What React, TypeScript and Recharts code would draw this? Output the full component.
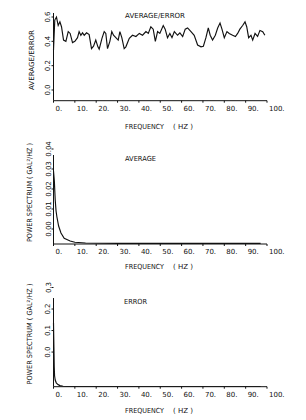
import React from "react";
import { LineChart, Line, XAxis, YAxis, ReferenceLine } from "recharts";

// ---- data ----
const FREQ_TICKS = [0, 10, 20, 30, 40, 50, 60, 70, 80, 90, 100];

const RATIO_Y_TICKS = [0, 0.2, 0.4, 0.6];
const AVG_Y_TICKS = [0, 0.01, 0.02, 0.03, 0.04];
const ERR_Y_TICKS = [0, 0.1, 0.2, 0.3];

// AVERAGE/ERROR ratio
const RATIO_FREQ = [
  0, 0.6, 1.4, 2.2, 3.0, 3.75, 4.7, 5.8, 6.9, 7.8, 8.9, 10, 11.25, 12, 12.8, 13.6, 14.4, 15.5, 16.7, 17.8,
  18.75, 19.8, 20.8, 21.4, 22.7, 23.75, 24.5, 25.3, 26.4, 27.3, 28.1, 29.2, 30.3, 31.1, 32, 33.1, 33.9, 35.5,
  37, 38.6, 40.2, 41.7, 43.3, 44.4, 45.6, 46.7, 47.7, 48.75, 49.8, 51.4, 52.3, 53.4, 54.5, 55.5, 56.6, 58.1,
  59.2, 60.5, 61.7, 62.8, 64.4, 65.9, 67.5, 69.1, 70.2, 71.4, 72.5, 73.4, 74.5, 75.8, 76.9, 78, 78.9, 80,
  81.25, 82.3, 83.9, 85.2, 86.25, 87.3, 88.6, 89.7, 90.5, 91.4, 92.5, 93.3, 94.4, 95.6, 96.7, 98, 99,
];
const RATIO_VALUES = [
  0.33, 0.575, 0.6, 0.53, 0.56, 0.52, 0.41, 0.4, 0.48, 0.465, 0.39, 0.4, 0.43, 0.48, 0.45, 0.47, 0.45, 0.47,
  0.455, 0.34, 0.36, 0.41, 0.355, 0.335, 0.425, 0.48, 0.465, 0.34, 0.4, 0.48, 0.45, 0.43, 0.41, 0.48, 0.43,
  0.34, 0.355, 0.425, 0.45, 0.44, 0.465, 0.45, 0.48, 0.465, 0.52, 0.5, 0.4, 0.48, 0.465, 0.53, 0.5, 0.43,
  0.465, 0.43, 0.48, 0.45, 0.47, 0.44, 0.5, 0.51, 0.48, 0.45, 0.37, 0.355, 0.36, 0.43, 0.51, 0.45, 0.41,
  0.45, 0.51, 0.55, 0.5, 0.43, 0.48, 0.465, 0.45, 0.44, 0.465, 0.5, 0.53, 0.56, 0.52, 0.43, 0.45, 0.41,
  0.465, 0.44, 0.49, 0.48, 0.45,
];

// AVERAGE power spectrum
const AVG_FREQ = [0, 0.4, 0.8, 1.2, 1.6, 2.4, 3.5, 5, 7.8, 10, 15, 30, 60, 97];
const AVG_VALUES = [0.029, 0.024, 0.0145, 0.009, 0.006, 0.0015, -0.002, -0.0047, -0.006, -0.0066, -0.007, -0.0072, -0.0072, -0.0072];

// ERROR power spectrum
const ERR_FREQ = [0, 0.2, 0.35, 0.5, 0.8, 1.3, 2.1, 3, 4.5, 7, 30, 60, 97];
const ERR_VALUES = [0.135, 0.02, -0.07, -0.11, -0.13, -0.143, -0.151, -0.156, -0.159, -0.16, -0.16, -0.16, -0.16];

const zip = (fs: number[], vs: number[]) => fs.map((f, i) => ({ f, v: vs[i] }));
const ratioData = zip(RATIO_FREQ, RATIO_VALUES);
const avgData = zip(AVG_FREQ, AVG_VALUES);
const errData = zip(ERR_FREQ, ERR_VALUES);

// ---- styling ----
const INK = "#111";
const FONT = "DejaVu Sans";

const XTick = (props: any) => {
  const { x, y, payload } = props;
  return (
    <text x={x + 2} y={y + 7.8} fontSize={7} fontFamily={FONT} fill={INK} textAnchor="start">
      {`${payload.value}.`}
    </text>
  );
};

const makeYTick = (digits: number) => (props: any) => {
  const { x, y, payload } = props;
  const cx = x - 3;
  return (
    <text
      x={cx}
      y={y}
      fontSize={7}
      fontFamily={FONT}
      fill={INK}
      textAnchor="middle"
      dominantBaseline="central"
      transform={`rotate(-90, ${cx}, ${y})`}
    >
      {Number(payload.value).toFixed(digits)}
    </text>
  );
};

const YTick1 = makeYTick(1);
const YTick2 = makeYTick(2);

const W = 306;
const Y_AXIS_W = 53.5;
const RIGHT = 39;

const Panel = ({
  top,
  height,
  mTop,
  mBottom,
  data,
  domain,
  ticks,
  tick,
  axisTop,
}: any) => (
  <div style={{ position: "absolute", left: 0, top, width: W, height }}>
    <LineChart
      width={W}
      height={height}
      data={data}
      margin={{ top: mTop, right: RIGHT, bottom: mBottom, left: 0 }}
    >
      <XAxis
        dataKey="f"
        type="number"
        domain={[0, 100]}
        ticks={FREQ_TICKS}
        tick={<XTick />}
        tickSize={2}
        tickMargin={0}
        height={20}
        stroke={INK}
        interval={0}
      />
      <YAxis
        dataKey="v"
        type="number"
        domain={domain}
        ticks={ticks}
        tick={tick}
        tickSize={2}
        tickMargin={0}
        width={Y_AXIS_W}
        stroke={INK}
        axisLine={axisTop === undefined}
        allowDataOverflow
        interval={0}
      />
      {axisTop !== undefined && (
        <ReferenceLine
          segment={[
            { x: 0, y: domain[0] },
            { x: 0, y: axisTop },
          ]}
          stroke={INK}
          strokeWidth={1}
        />
      )}
      <Line
        type="linear"
        dataKey="v"
        stroke={INK}
        strokeWidth={1.15}
        dot={false}
        isAnimationActive={false}
      />
    </LineChart>
  </div>
);

const T = (p: any) => (
  <text fontSize={7} fontFamily={FONT} fill={INK} dominantBaseline="central" lengthAdjust="spacingAndGlyphs" {...p} />
);

const RT = ({ x, y, len, children }: any) => (
  <text
    x={x}
    y={y}
    fontSize={7}
    fontFamily={FONT}
    fill={INK}
    textAnchor="middle"
    dominantBaseline="central"
    textLength={len}
    lengthAdjust="spacingAndGlyphs"
    transform={`rotate(-90, ${x}, ${y})`}
  >
    {children}
  </text>
);

const FreqTitle = ({ y }: { y: number }) => (
  <>
    <T x={125} y={y} textLength={39}>FREQUENCY</T>
    <T x={173} y={y} textLength={20}>( HZ )</T>
  </>
);

export default function App() {
  return (
    <div style={{ position: "absolute", left: 0, top: 0, width: W, height: 420, background: "#fff", overflow: "hidden" }}>
      <Panel
        top={0}
        height={140}
        mTop={13}
        mBottom={19.3}
        data={ratioData}
        domain={[-0.088, 0.633]}
        ticks={RATIO_Y_TICKS}
        tick={<YTick1 />}
      />
      <Panel
        top={140}
        height={140}
        mTop={9}
        mBottom={16}
        data={avgData}
        domain={[-0.0075, 0.04]}
        ticks={AVG_Y_TICKS}
        tick={<YTick2 />}
        axisTop={0.037}
      />
      <Panel
        top={280}
        height={140}
        mTop={7.5}
        mBottom={13.3}
        data={errData}
        domain={[-0.161, 0.3]}
        ticks={ERR_Y_TICKS}
        tick={<YTick1 />}
        axisTop={0.251}
      />
      <svg
        width={W}
        height={420}
        style={{ position: "absolute", left: 0, top: 0, pointerEvents: "none" }}
      >
        <T x={125} y={16} textLength={60}>AVERAGE/ERROR</T>
        <T x={125} y={159} textLength={31}>AVERAGE</T>
        <T x={124} y={301.7} textLength={23}>ERROR</T>

        <FreqTitle y={127} />
        <FreqTitle y={266.7} />
        <FreqTitle y={410.5} />

        <RT x={31.5} y={60} len={60}>AVERAGE/ERROR</RT>
        <RT x={30} y={192.5} len={99}>POWER SPECTRUM ( GAL²/HZ )</RT>
        <RT x={30} y={334} len={101}>POWER SPECTRUM ( GAL²/HZ )</RT>
      </svg>
    </div>
  );
}
